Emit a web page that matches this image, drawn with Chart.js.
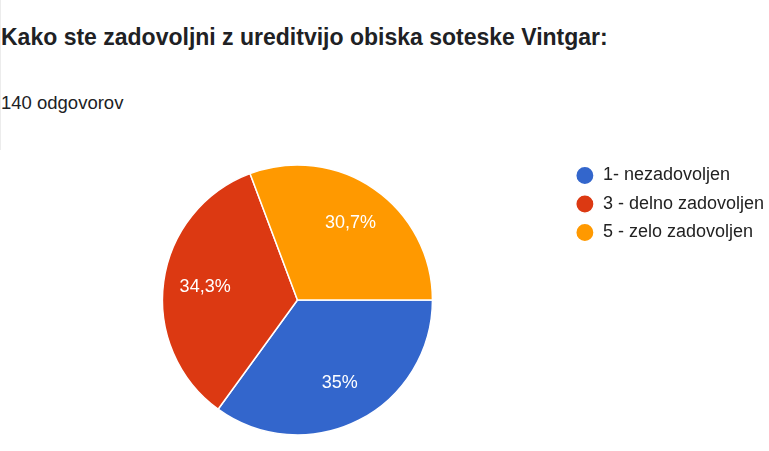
<!DOCTYPE html>
<html>
<head>
<meta charset="utf-8">
<script src="https://cdn.jsdelivr.net/npm/chart.js@4/dist/chart.umd.min.js"></script>
<style>
  html, body { margin: 0; padding: 0; background: #fff; overflow: hidden; width: 769px; height: 451px; }
  body { position: relative; font-family: "Liberation Sans", Arial, sans-serif; color: #202124; }
  #edge { position: absolute; left: 0; top: 0; width: 1px; height: 150px; background: #ececec; }
  #title { position: absolute; left: 1px; top: 24px; font-size: 23px; font-weight: 700; line-height: normal; white-space: nowrap; }
  #count { position: absolute; left: 1px; top: 92px; font-size: 18.5px; line-height: normal; white-space: nowrap; }
  #wrap { position: absolute; left: 0; top: 156px; width: 774px; height: 288px; }
</style>
</head>
<body>
<div id="edge"></div>
<div id="title">Kako ste zadovoljni z ureditvijo obiska soteske Vintgar:</div>
<div id="count">140 odgovorov</div>
<div id="wrap"><canvas id="pie"></canvas></div>
<script>
// answers
const labels = ["1- nezadovoljen", "3 - delno zadovoljen", "5 - zelo zadovoljen"];
const counts = [49, 48, 43];
const colors = ["#3366cc", "#dc3912", "#ff9900"];

const total = counts.reduce((a, b) => a + b, 0);

// percent text inside each slice
const sliceLabels = {
  id: "sliceLabels",
  afterDatasetsDraw(chart) {
    const ctx = chart.ctx;
    const meta = chart.getDatasetMeta(0);
    ctx.save();
    ctx.fillStyle = "#ffffff";
    ctx.font = "18px 'Liberation Sans', Arial";
    ctx.textAlign = "center";
    ctx.textBaseline = "middle";
    meta.data.forEach((arc, i) => {
      const p = arc.getProps(["x", "y", "startAngle", "endAngle", "outerRadius"], true);
      const mid = (p.startAngle + p.endAngle) / 2;
      const r = p.outerRadius * 0.69;
      let pct = Math.round(counts[i] / total * 1000) / 10;
      const txt = String(pct).replace(".", ",") + "%";
      ctx.fillText(txt, p.x + Math.cos(mid) * r, p.y + Math.sin(mid) * r);
    });
    ctx.restore();
  }
};

const data = {
  labels: labels,
  datasets: [
    {
      data: counts,
      backgroundColor: colors,
      borderColor: "#ffffff",
      borderWidth: 1.5,
      radius: 135,
    },
  ],
};

const config = {
  type: "pie",
  data,
  options: {
    responsive: true,
    maintainAspectRatio: false,
    animation: false,
    rotation: 90,
    layout: { padding: { left: 29.5, right: 0, top: 0, bottom: 0 } },
    plugins: {
      legend: {
        position: "right",
        align: "start",
        labels: {
          usePointStyle: true,
          pointStyle: "circle",
          boxWidth: 18,
          boxHeight: 13,
          padding: 10.5,
          color: "#222222",
          font: { family: "'Liberation Sans', Arial", size: 18 },
        },
      },
      tooltip: { enabled: false },
    },
  },
  plugins: [sliceLabels],
};

const myChart = new Chart(document.getElementById("pie"), config);
</script>
</body>
</html>
